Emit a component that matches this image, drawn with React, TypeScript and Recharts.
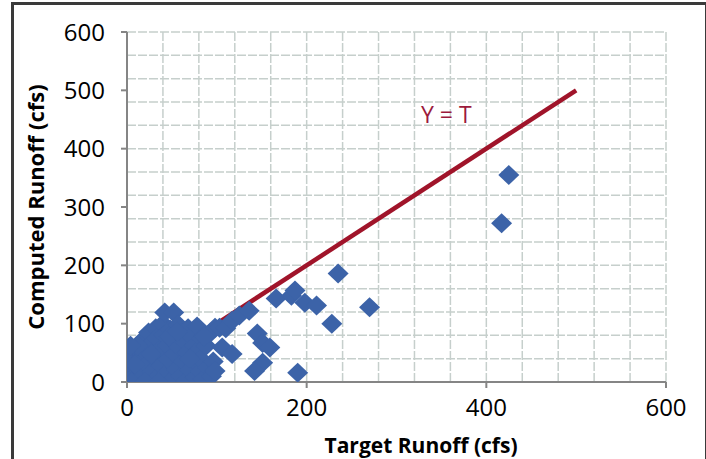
import { ScatterChart, Scatter, XAxis, YAxis, CartesianGrid } from "recharts";

// target (x) and computed (y) runoff, cfs
const targetRunoff = [
  2, 4, 3, 6, 8, 10, 12, 14, 15, 16, 18, 20, 22, 24, 25, 26, 28, 30, 32, 33,
  34, 36, 38, 40, 41, 42, 44, 45, 46, 48, 50, 51, 52, 53, 55, 57, 58, 60, 61, 63,
  64, 66, 67, 68, 70, 72, 73, 75, 76, 78, 79, 80, 82, 83, 85, 82, 88, 90, 92, 94,
  96, 98, 98, 103, 106, 110, 5, 20, 35, 9, 27, 47, 70, 12, 56, 4, 86,
  117, 125, 136, 145, 151, 159, 117, 151, 142, 190, 166, 183, 187, 198, 211,
  228, 235, 270, 417, 425,
];
const computedRunoff = [
  5, 18, 32, 45, 10, 58, 25, 3, 40, 70, 12, 52, 30, 85, 2, 64, 18, 42, 92, 75,
  8, 55, 28, 100, 80, 119, 15, 62, 38, 90, 4, 72, 119, 48, 22, 98, 60, 10, 84, 35,
  70, 2, 50, 92, 20, 78, 42, 62, 8, 95, 30, 55, 18, 75, 5, 40, 62, 25, 83, 10,
  35, 19, 93, 93, 59, 92, 0, 0, 0, 30, 48, 78, 40, 62, 86, 62, 78,
  105, 114, 122, 83, 67, 59, 48, 33, 19, 16, 143, 148, 157, 136, 131,
  100, 186, 128, 272, 355,
];

const lineT = [0, 500];
const lineY = [0, 500];

const xTicks = [0, 200, 400, 600];
const yTicks = [0, 100, 200, 300, 400, 500, 600];
const xGrid = [0, 40, 80, 120, 160, 200, 240, 280, 320, 360, 400, 440, 480, 520, 560, 600];
const yGrid = [0, 20, 40, 60, 80, 100, 120, 140, 160, 180, 200, 220, 240, 260, 280, 300,
  320, 340, 360, 380, 400, 420, 440, 460, 480, 500, 520, 540, 560, 580, 600];

const points = targetRunoff.map((t, i) => ({ x: t, y: computedRunoff[i] }));
const linePoints = lineT.map((t, i) => ({ x: t, y: lineY[i] }));

const Diamond = (props: any) => {
  const { cx, cy } = props;
  if (cx == null || cy == null) return <g />;
  return (
    <polygon
      points={`${cx},${cy - 10} ${cx + 10.5},${cy} ${cx},${cy + 10} ${cx - 10.5},${cy}`}
      fill="#3c63a8"
    />
  );
};

const font = "'Open Sans', sans-serif";

export default function App() {
  return (
    <div style={{ position: "absolute", left: 0, top: 0, width: 706, height: 459, overflow: "hidden", background: "#fff" }}>
      <ScatterChart width={706} height={459} margin={{ top: 32, right: 40, bottom: 37, left: 67 }}>
        <CartesianGrid
          stroke="#c6cfcc"
          strokeWidth={1.5}
          strokeDasharray="9 2"
          horizontalValues={yGrid}
          verticalValues={xGrid}
        />
        <XAxis
          type="number"
          dataKey="x"
          domain={[0, 600]}
          ticks={xTicks}
          height={40}
          axisLine={{ stroke: "#858585", strokeWidth: 2 }}
          tickLine={{ stroke: "#858585", strokeWidth: 2 }}
          tickSize={6}
          tickMargin={11}
          tick={{ fill: "#000", fontSize: 24, fontFamily: font }}
          allowDataOverflow
        />
        <YAxis
          type="number"
          dataKey="y"
          domain={[0, 600]}
          ticks={yTicks}
          width={60}
          axisLine={{ stroke: "#858585", strokeWidth: 2 }}
          tickLine={{ stroke: "#858585", strokeWidth: 2 }}
          tickSize={6}
          tickMargin={16}
          tick={{ fill: "#000", fontSize: 24, fontFamily: font }}
          allowDataOverflow
        />
        <Scatter
          data={linePoints}
          line={{ stroke: "#a0142a", strokeWidth: 4.5 }}
          shape={() => <g />}
          isAnimationActive={false}
        />
        <Scatter data={points} shape={Diamond} isAnimationActive={false} />
      </ScatterChart>
      <div
        style={{
          position: "absolute",
          left: 421,
          top: 99,
          color: "#9c1a3c",
          fontFamily: font,
          fontSize: 23,
          lineHeight: "30px",
        }}
      >
        Y = T
      </div>
      <div
        style={{
          position: "absolute",
          left: 321,
          top: 432,
          width: 200,
          textAlign: "center",
          fontFamily: font,
          fontWeight: 700,
          fontSize: 21,
          lineHeight: "26px",
          whiteSpace: "nowrap",
        }}
      >
        Target Runoff (cfs)
      </div>
      <div
        style={{
          position: "absolute",
          left: 35,
          top: 207,
          transform: "translate(-50%, -50%) rotate(-90deg)",
          fontFamily: font,
          fontWeight: 700,
          fontSize: 22,
          lineHeight: "28px",
          whiteSpace: "nowrap",
        }}
      >
        Computed Runoff (cfs)
      </div>
      <div
        style={{
          position: "absolute",
          left: 11,
          top: 2,
          width: 691,
          height: 480,
          border: "3px solid #3a3a3a",
          borderBottom: "none",
          pointerEvents: "none",
        }}
      />
    </div>
  );
}
